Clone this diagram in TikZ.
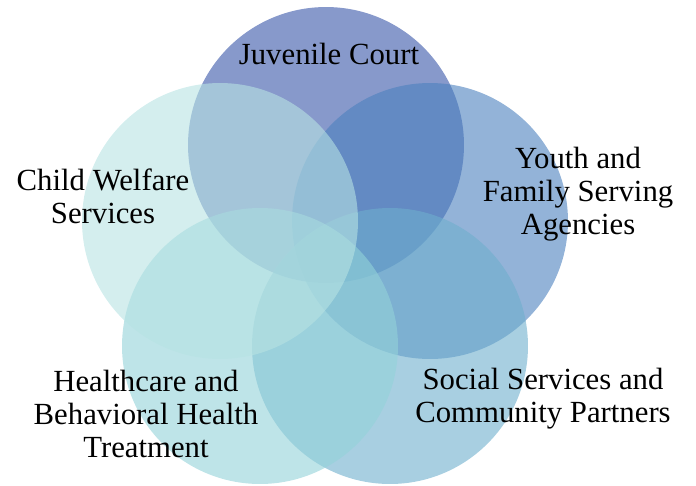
\documentclass[tikz,border=0pt]{standalone}
\usepackage{fontspec}
\setmainfont{Liberation Serif}
\usetikzlibrary{
  positioning,  % relative placement
}
\definecolor{courtblue}{HTML}{3755A8}
\definecolor{youthblue}{HTML}{4B80BE}
\definecolor{socialblue}{HTML}{6EAFCD}
\definecolor{healthteal}{HTML}{93D2D9}
\definecolor{welfareteal}{HTML}{B7E3E3}
\def\myradius{2.76cm}
\tikzset{
  x=0.02cm,
  y=-0.02cm,
  my circle/.style={
    draw=none,
    fill opacity=0.6
  },
  my label/.style={
    align=center,
    text=black,
    inner sep=0mm,
    font=\fontsize{17.5}{18.9}\selectfont
  }
}
\begin{document}
\begin{tikzpicture}
\useasboundingbox (0,0) rectangle (696,485);
\coordinate (court)   at (326,145);
\coordinate (youth)   at (430,221);
\coordinate (social)  at (390,346);
\coordinate (health)  at (260,346);
\coordinate (welfare) at (220,221);
% circles, back to front
\fill[my circle,courtblue]   (court)   circle[radius=\myradius];
\fill[my circle,youthblue]   (youth)   circle[radius=\myradius];
\fill[my circle,socialblue]  (social)  circle[radius=\myradius];
\fill[my circle,healthteal]  (health)  circle[radius=\myradius];
\fill[my circle,welfareteal] (welfare) circle[radius=\myradius];
% labels
\node[my label] (court label)   at (329,54)  {Juvenile Court};
\node[my label] (youth label)   at (578,194) {Youth and\\Family Serving\\Agencies};
\node[my label] (social label)  at (543,399) {Social Services and\\Community Partners};
\node[my label] (health label)  at (146,414) {Healthcare and\\Behavioral Health\\Treatment};
\node[my label] (welfare label) at (103,196) {Child Welfare\\Services};
\end{tikzpicture}
\end{document}
